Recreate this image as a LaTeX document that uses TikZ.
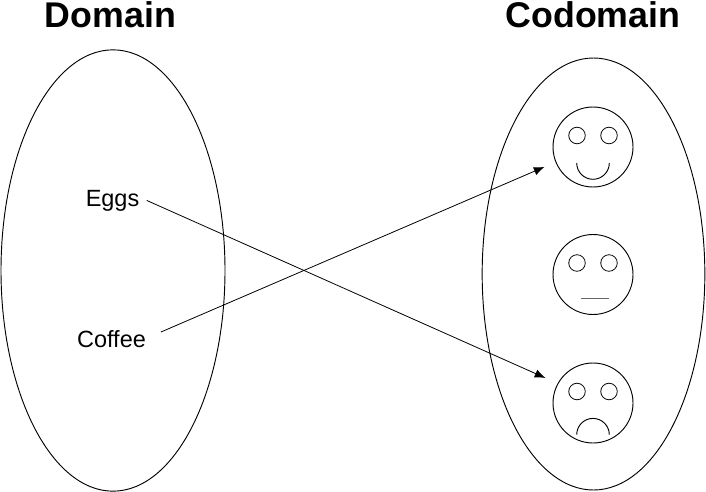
\documentclass[tikz,border=0pt]{standalone}
\usepackage{fontspec}
\setmainfont{Liberation Sans}
\usepackage{tikz}
\usetikzlibrary{arrows.meta,shapes.geometric}
\tikzset{
  setblob/.style={draw, ellipse, inner sep=0pt, line width=0.7pt},
  face/.style={draw, circle, inner sep=0pt, minimum size=60pt, line width=0.7pt},
  eye/.style={draw, circle, inner sep=0pt, minimum size=12.4pt, line width=0.6pt},
  heading/.style={font=\fontsize{26.8}{30}\selectfont\bfseries},
  item/.style={font=\fontsize{17.6}{20}\selectfont, inner xsep=11pt, inner ysep=2pt},
  mapsto/.style={->, line width=0.6pt}
}
\begin{document}
\begin{tikzpicture}[x=0.75pt, y=-0.75pt, >={Latex[length=8pt,width=6.4pt]}]
        \useasboundingbox (0,0) rectangle (706,492);
        % the two sets
        \node[setblob, minimum width=168pt, minimum height=331pt] (domain) at (113,270.5) {};
        \node[setblob, minimum width=167pt, minimum height=324pt] (codomain) at (593.5,274) {};
        \node[heading] (domainlabel) at (110.5,15) {Domain};
        \node[heading] (codomainlabel) at (593,15) {Codomain};
        % three faces
        \foreach \n/\y in {happy/147,neutral/274.5,sad/403} {
          \node[face] (\n) at (593,\y) {};
          \node[eye] (\n left) at (577,\y-11.5) {};
          \node[eye] (\n right) at (609,\y-11.5) {};
        }
        \draw[line width=0.7pt] (576.7,163) arc[start angle=180, end angle=0, radius=16.3];
        \draw[line width=0.8pt, black!60] (581,298.7) -- (609,298.7);
        \draw[line width=0.7pt] (576.7,434.7) arc[start angle=180, end angle=360, radius=16.3];
        % the mapping
        \node[item, inner xsep=5.5pt] (eggs) at (112.5,200.5) {Eggs};
        \node[item] (coffee) at (111.5,339) {Coffee};
        \draw[mapsto, shorten >=10pt] (eggs.east) -- (sad.151.5);
        \draw[mapsto, shorten >=9pt] (coffee.8) -- (happy.202);
      \end{tikzpicture}
\end{document}
